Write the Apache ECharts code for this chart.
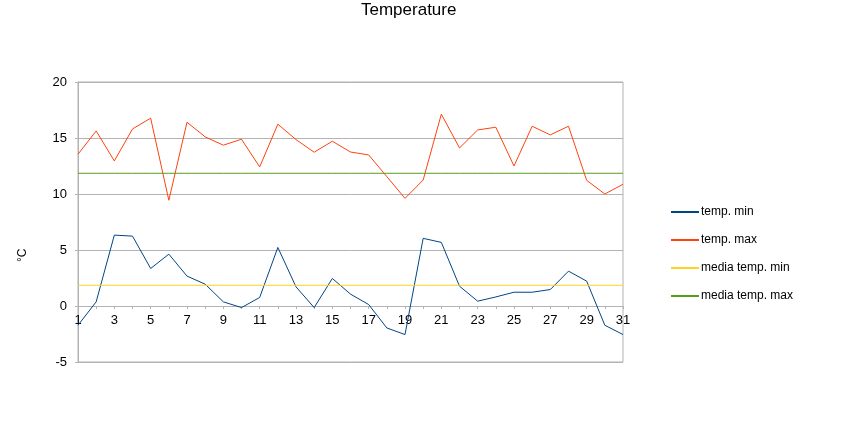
<!DOCTYPE html>
<html>
<head>
<meta charset="utf-8">
<script src="https://cdn.jsdelivr.net/npm/echarts@6/dist/echarts.min.js"></script>
<style>
  html, body { margin: 0; padding: 0; background: #fff; }
  #chart { width: 843px; height: 445px; }
</style>
</head>
<body>
<div id="chart"></div>
<script>
const days = Array.from({ length: 31 }, (_, i) => String(i + 1))

const tempMin = [-1.72, 0.37, 6.33, 6.24, 3.35, 4.63, 2.67, 1.95, 0.37, -0.14,
  0.76, 5.23, 1.71, -0.14, 2.46, 1.06, 0.13, -1.96, -2.55, 6.04,
  5.68, 1.77, 0.43, 0.81, 1.23, 1.23, 1.47, 3.11, 2.22, -1.72, -2.55]

const tempMax = [13.55, 15.63, 12.95, 15.81, 16.77, 9.44, 16.41, 15.10, 14.36, 14.89,
  12.42, 16.23, 14.86, 13.73, 14.71, 13.75, 13.49, 11.55, 9.61, 11.25,
  17.13, 14.11, 15.72, 15.96, 12.50, 16.05, 15.28, 16.05, 11.22, 10.0, 10.87]

const mediaMin = days.map(() => 1.85)
const mediaMax = days.map(() => 11.85)

const FONT = 'Liberation Sans, Arial, sans-serif'
const GRID_COLOR = '#b3b3b3'

const chart = echarts.init(document.getElementById('chart'))

function line(name, data, color) {
  return {
    name,
    type: 'line',
    data,
    symbol: 'none',
    lineStyle: { width: 1, color },
    itemStyle: { color },
  }
}

chart.setOption({
  animation: false,
  title: {
    text: 'Temperature',
    left: 356,
    top: -3,
    textStyle: { fontFamily: FONT, fontSize: 17, fontWeight: 'normal', color: '#000' },
  },
  graphic: [{
    type: 'text',
    x: 17,
    y: 262,
    rotation: Math.PI / 2,
    style: { text: '°C', fontFamily: FONT, fontSize: 12, fill: '#000' },
  }],
  legend: {
    orient: 'vertical',
    left: 665,
    top: 201,
    itemWidth: 28,
    itemHeight: 1,
    itemGap: 16,
    textStyle: { fontFamily: FONT, fontSize: 12, color: '#000', padding: [0, 0, 0, -3] },
  },
  grid: {
    left: 78, right: 220, top: 82, bottom: 83,
    show: true,
    borderColor: GRID_COLOR,
    borderWidth: 1,
  },
  xAxis: {
    type: 'category',
    data: days,
    boundaryGap: false,
    offset: -56,
    axisLine: { onZero: false, lineStyle: { color: GRID_COLOR } },
    axisTick: { interval: 0, length: 3, lineStyle: { color: GRID_COLOR } },
    axisLabel: { interval: 1, fontFamily: FONT, fontSize: 13, color: '#000', margin: 8 },
    splitLine: { show: false },
  },
  yAxis: {
    type: 'value',
    min: -5,
    max: 20,
    interval: 5,
    axisLine: { show: true, lineStyle: { color: GRID_COLOR } },
    axisTick: { show: true, length: 3, lineStyle: { color: GRID_COLOR } },
    axisLabel: { fontFamily: FONT, fontSize: 13, color: '#000', margin: 11 },
    splitLine: { lineStyle: { color: GRID_COLOR } },
  },
  series: [
    line('temp. min', tempMin, '#004586'),
    line('temp. max', tempMax, '#ff420e'),
    line('media temp. min', mediaMin, '#ffd320'),
    line('media temp. max', mediaMax, '#579d1c'),
  ],
})
</script>
</body>
</html>
